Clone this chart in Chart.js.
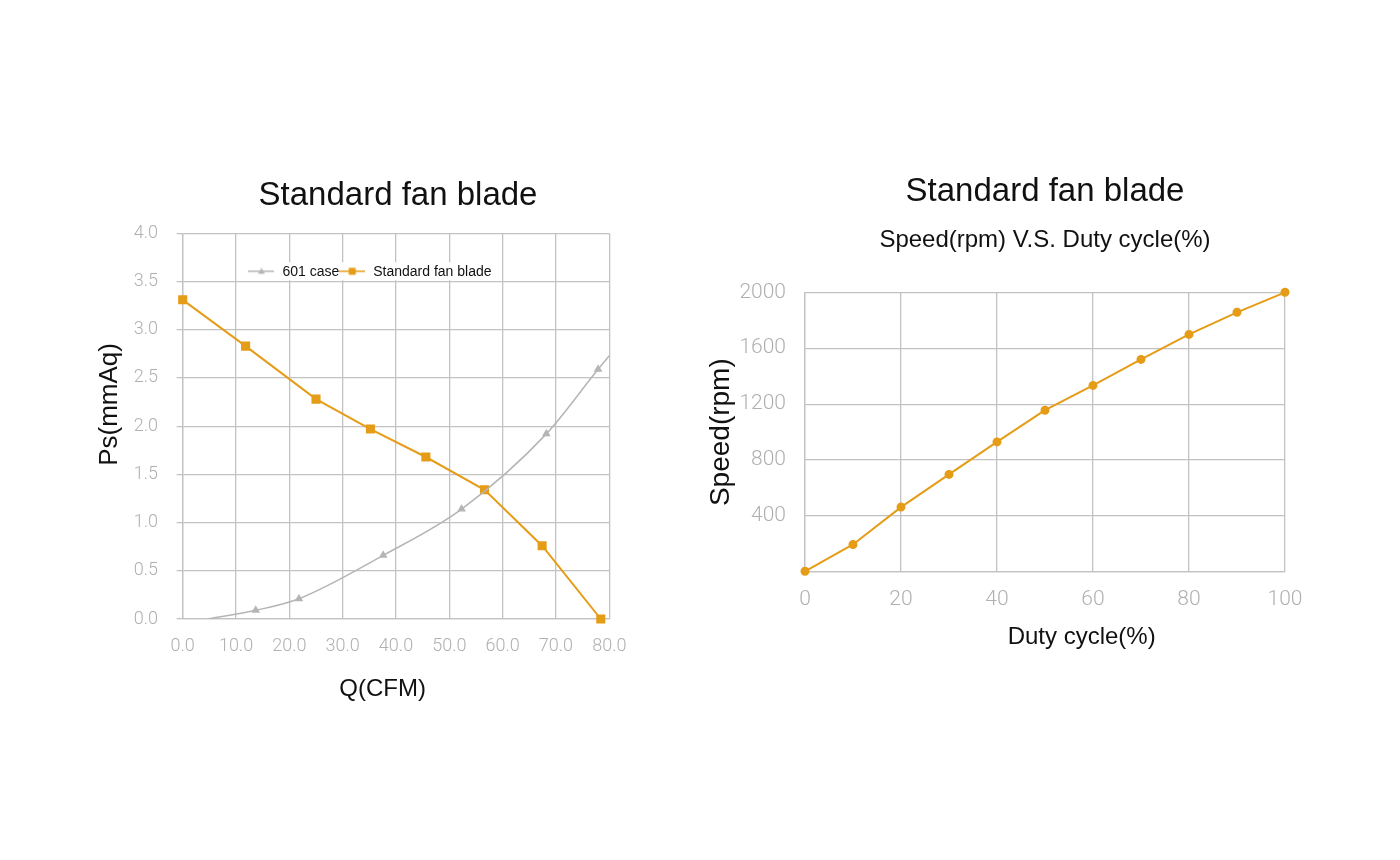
<!DOCTYPE html>
<html>
<head>
<meta charset="utf-8">
<script src="https://cdn.jsdelivr.net/npm/chart.js@4"></script>
<style>
  html, body { margin: 0; padding: 0; background: #fff; }
  body { width: 1400px; height: 860px; position: relative; overflow: hidden; }
  .box { position: absolute; }
  #pq { left: 94px; top: 165px; width: 608px; height: 550px; }
  #duty { left: 704px; top: 160px; width: 682px; height: 510px; }
</style>
</head>
<body>
<div class="box" id="pq"><canvas id="pqChart"></canvas></div>
<div class="box" id="duty"><canvas id="dutyChart"></canvas></div>
<script>
// P-Q curve (left)
var caseQ  = [4.7, 13.7, 21.8, 37.6, 52.3, 68.2, 77.9, 80.0];
var casePs = [0.0, 0.09, 0.21, 0.66, 1.14, 1.92, 2.59, 2.73];
var bladeQ  = [0.0, 11.8, 25.0, 35.2, 45.6, 56.6, 67.4, 78.4];
var bladePs = [3.31, 2.83, 2.28, 1.97, 1.68, 1.34, 0.76, 0.0];

// speed vs duty cycle (right)
var dutyPct  = [0, 10, 20, 30, 40, 50, 60, 70, 80, 90, 100];
var speedRpm = [5, 197, 464, 698, 930, 1157, 1334, 1520, 1699, 1857, 2000];

var ORANGE = '#e59c16';
var GREY = '#b5b5b5';
var GRID = '#c2c2c2';
var TICK = '#b0b0b0';
var SANS = '"Liberation Sans", Arial, sans-serif';

var pairs = (xs, ys) => xs.map((x, i) => ({ x: x, y: ys[i] }));

// little line+marker swatch for the legend
var legendIcon = function(color, style) {
  var c = document.createElement('canvas');
  c.width = 26; c.height = 10;
  var g = c.getContext('2d');
  g.strokeStyle = color;
  g.fillStyle = color;
  g.lineWidth = 1.5;
  g.beginPath(); g.moveTo(0, 5); g.lineTo(26, 5); g.stroke();
  g.beginPath();
  if (style === 'triangle') {
    g.moveTo(13, 1.5); g.lineTo(16.5, 7.5); g.lineTo(9.5, 7.5); g.closePath();
  } else {
    g.rect(9.5, 1.5, 7, 7);
  }
  g.fill();
  return c;
};

// one-row legend sitting inside the plot, on a white patch
var inlineLegend = {
  id: 'inlineLegend',
  afterDatasetsDraw(chart, args, opts) {
    var ctx = chart.ctx, area = chart.chartArea;
    ctx.save();
    ctx.font = opts.size + 'px ' + SANS;
    var items = chart.data.datasets.map(ds => ({ ds: ds, w: 26 + 8 + ctx.measureText(ds.label).width }));
    var total = items.reduce((s, it) => s + it.w, 0);
    var x = area.left + area.width * opts.cx - total / 2;
    var y = area.top + opts.dy;
    ctx.fillStyle = '#fff';
    ctx.fillRect(x - 4, y - 9, total + 10, 18);
    ctx.textBaseline = 'middle';
    ctx.textAlign = 'left';
    items.forEach(it => {
      ctx.drawImage(it.ds.icon, x, y - 5);
      ctx.fillStyle = '#111';
      ctx.fillText(it.ds.label, x + 34, y + 0.5);
      x += it.w;
    });
    ctx.restore();
  }
};

// empty right-hand axis so the titles centre on the whole box
var spacer = w => ({
  position: 'right',
  display: true,
  afterFit: s => { s.width = w; },
  grid: { display: false },
  border: { display: false },
  ticks: { display: false }
});

new Chart(document.getElementById('pqChart'), {
  type: 'line',
  data: {
    datasets: [
      {
        label: '601 case',
        data: pairs(caseQ, casePs),
        borderColor: GREY,
        backgroundColor: GREY,
        borderWidth: 1.5,
        cubicInterpolationMode: 'monotone',
        pointStyle: 'triangle',
        pointRadius: caseQ.map((q, i) => (i === 0 || i === caseQ.length - 1) ? 0 : 3.5),
        icon: legendIcon(GREY, 'triangle')
      },
      {
        label: 'Standard fan blade',
        data: pairs(bladeQ, bladePs),
        borderColor: ORANGE,
        backgroundColor: ORANGE,
        borderWidth: 2,
        tension: 0,
        pointStyle: 'rect',
        pointRadius: 5,
        clip: false,
        icon: legendIcon(ORANGE, 'rect')
      }
    ]
  },
  options: {
    responsive: true,
    maintainAspectRatio: false,
    animation: false,
    layout: { padding: 0 },
    plugins: {
      title: {
        display: true,
        text: 'Standard fan blade',
        color: '#111',
        font: { family: SANS, size: 33, weight: 'normal' },
        padding: { top: 11.2, bottom: 17.5 }
      },
      legend: { display: false },
      inlineLegend: { cx: 0.439, dy: 38, size: 14 },
      tooltip: { enabled: false }
    },
    scales: {
      x: {
        type: 'linear',
        min: 0,
        max: 80,
        afterFit: s => { s.height = 96; },
        grid: { color: GRID, lineWidth: 1.3, drawTicks: false },
        border: { color: GRID, width: 1.3 },
        ticks: {
          stepSize: 10,
          padding: 17,
          color: TICK,
          font: { family: 'Roboto', size: 18, weight: 300 },
          callback: v => v.toFixed(1)
        },
        title: {
          display: true,
          text: 'Q(CFM)    ',
          color: '#111',
          font: { family: SANS, size: 24 },
          padding: { top: 0, bottom: 11.6 }
        }
      },
      y: {
        min: 0,
        max: 4,
        afterFit: s => { s.width = 88.7; },
        grid: { color: GRID, lineWidth: 1.3, tickLength: 6 },
        border: { color: GRID, width: 1.3 },
        ticks: {
          stepSize: 0.5,
          padding: 18.7,
          color: TICK,
          font: { family: 'Roboto', size: 18, weight: 300 },
          callback: v => v.toFixed(1)
        },
        title: {
          display: true,
          text: '      Ps(mmAq)',
          color: '#111',
          font: { family: SANS, size: 26 },
          padding: { top: 0, bottom: 0 }
        }
      },
      pad: spacer(92.7)
    }
  },
  plugins: [inlineLegend]
});

new Chart(document.getElementById('dutyChart'), {
  type: 'line',
  data: {
    datasets: [
      {
        label: 'Speed',
        data: pairs(dutyPct, speedRpm),
        borderColor: ORANGE,
        backgroundColor: ORANGE,
        borderWidth: 2,
        tension: 0,
        pointStyle: 'circle',
        pointRadius: 3.5,
        clip: false
      }
    ]
  },
  options: {
    responsive: true,
    maintainAspectRatio: false,
    animation: false,
    layout: { padding: 0 },
    plugins: {
      title: {
        display: true,
        text: 'Standard fan blade',
        color: '#111',
        font: { family: SANS, size: 33, weight: 'normal' },
        padding: { top: 12.2, bottom: 13.8 }
      },
      subtitle: {
        display: true,
        text: 'Speed(rpm) V.S. Duty cycle(%)',
        color: '#111',
        font: { family: SANS, size: 24 },
        padding: { top: 0, bottom: 37.9 }
      },
      legend: { display: false },
      tooltip: { enabled: false }
    },
    scales: {
      x: {
        type: 'linear',
        min: 0,
        max: 100,
        afterFit: s => { s.height = 98; },
        grid: { color: GRID, lineWidth: 1.3, drawTicks: false },
        border: { color: GRID, width: 1.3 },
        ticks: {
          stepSize: 20,
          padding: 15,
          color: TICK,
          font: { family: 'Roboto', size: 21, weight: 300 }
        },
        title: {
          display: true,
          text: '           Duty cycle(%)',
          color: '#111',
          font: { family: SANS, size: 24 },
          padding: { top: 0, bottom: 18.6 }
        }
      },
      y: {
        min: 0,
        max: 2000,
        afterFit: s => { s.width = 101; },
        grid: { color: GRID, lineWidth: 1.3, drawTicks: false },
        border: { color: GRID, width: 1.3 },
        ticks: {
          stepSize: 400,
          padding: 19,
          color: TICK,
          font: { family: 'Roboto', size: 21, weight: 300 },
          callback: v => v === 0 ? '' : v
        },
        title: {
          display: true,
          text: 'Speed(rpm)',
          color: '#111',
          font: { family: SANS, size: 28 },
          padding: { top: 0.2, bottom: 0 }
        }
      },
      pad: spacer(101)
    }
  }
});
</script>
</body>
</html>
